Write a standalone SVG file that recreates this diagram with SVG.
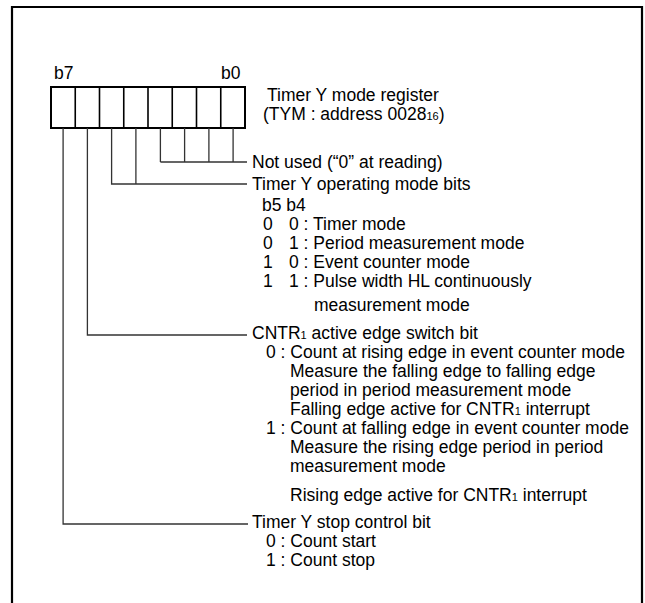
<svg xmlns="http://www.w3.org/2000/svg" width="645" height="603" viewBox="0 0 645 603">
<style>
text{font-family:"Liberation Sans",Arial,sans-serif;font-size:17.5px;fill:#000}
.sub{font-size:11px}
.frame{fill:none;stroke:#000;stroke-width:2.2}
.reg{fill:#fff;stroke:#000;stroke-width:2}
.div{stroke:#000;stroke-width:1.6}
.con{fill:none;stroke:#333;stroke-width:1.3}
</style>
<rect width="645" height="603" fill="#fff"/>
<path class="frame" d="M12,604 V7 H642 V604"/>
<g id="register">
<rect class="reg" x="51" y="87" width="194" height="41"/>
<path class="div" d="M75.25,87V128M99.5,87V128M123.75,87V128M148,87V128M172.25,87V128M196.5,87V128M220.75,87V128"/>
<text x="54" y="79">b7</text>
<text x="221" y="79">b0</text>
<text x="267" y="101">Timer Y mode register</text>
<text x="263" y="120">(TYM : address 0028<tspan class="sub">16</tspan>)</text>
</g>
<g id="connectors">
<path class="con" d="M160.4,128V162M184.6,128V162M208.9,128V162M233.1,128V162M160.4,162H247"/>
<path class="con" d="M111.6,128V184H247M135.9,128V184"/>
<path class="con" d="M87.4,128V335H247"/>
<path class="con" d="M63.1,128V524H248"/>
</g>
<g id="notused">
<text x="252" y="168">Not used (“0” at reading)</text>
</g>
<g id="opmode">
<text x="252" y="190">Timer Y operating mode bits</text>
<text x="262" y="211">b5 b4</text>
<text x="263" y="230">0</text><text x="289" y="230">0 : Timer mode</text>
<text x="263" y="249">0</text><text x="289" y="249">1 : Period measurement mode</text>
<text x="263" y="268">1</text><text x="289" y="268">0 : Event counter mode</text>
<text x="263" y="287">1</text><text x="289" y="287">1 : Pulse width HL continuously</text>
<text x="314" y="311">measurement mode</text>
</g>
<g id="cntr">
<text x="252" y="339">CNTR<tspan class="sub">1</tspan> active edge switch bit</text>
<text x="266" y="358">0 : Count at rising edge in event counter mode</text>
<text x="290" y="377">Measure the falling edge to falling edge</text>
<text x="290" y="396">period in period measurement mode</text>
<text x="290" y="415">Falling edge active for CNTR<tspan class="sub">1</tspan> interrupt</text>
<text x="266" y="434">1 : Count at falling edge in event counter mode</text>
<text x="290" y="453">Measure the rising edge period in period</text>
<text x="290" y="472">measurement mode</text>
<text x="290" y="501">Rising edge active for CNTR<tspan class="sub">1</tspan> interrupt</text>
</g>
<g id="stop">
<text x="252" y="528">Timer Y stop control bit</text>
<text x="266" y="547">0 : Count start</text>
<text x="266" y="566">1 : Count stop</text>
</g>
</svg>
